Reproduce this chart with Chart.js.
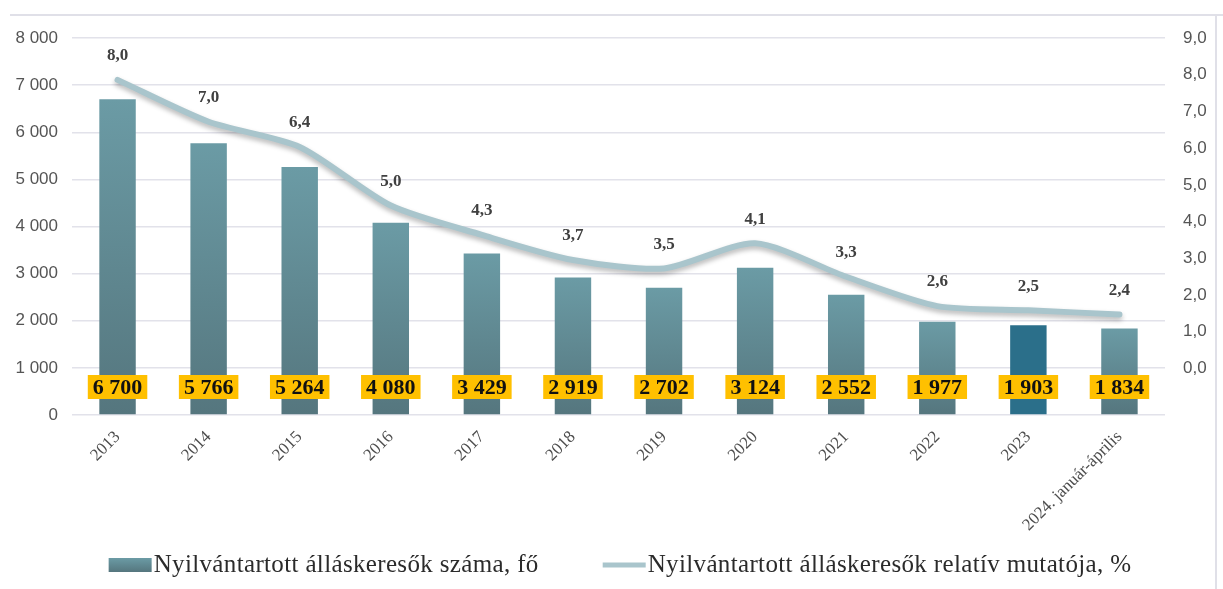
<!DOCTYPE html>
<html><head><meta charset="utf-8">
<script src="https://cdn.jsdelivr.net/npm/chart.js@4.4.1/dist/chart.umd.min.js"></script>
<style>html,body{margin:0;padding:0;background:#fff;} canvas{display:block;}</style>
</head><body>
<canvas id="c" width="1223" height="589"></canvas>
<script>
const categories = ['2013','2014','2015','2016','2017','2018','2019','2020','2021','2022','2023','2024. január-április'];
const jobseekers = [6700,5766,5264,4080,3429,2919,2702,3124,2552,1977,1903,1834];
const rates = [8.0,7.0,6.4,5.0,4.3,3.7,3.5,4.1,3.3,2.6,2.5,2.4];
const leftTicks = [0,1000,2000,3000,4000,5000,6000,7000,8000];
const rightTicks = [0,1,2,3,4,5,6,7,8,9];
const seriesNames = ['Nyilvántartott álláskeresők száma, fő','Nyilvántartott álláskeresők relatív mutatója, %'];
const highlightIndex = 10;

const fmtInt = v => String(v).replace(/\B(?=(\d{3})+(?!\d))/g, ' ');
const fmtDec = v => Number(v).toFixed(1).replace('.', ',');

const BAR_TOP = '#6b9ba5', BAR_BOTTOM = '#55767e', BAR_HI = '#2b6f8a', LINE_COLOR = '#a9c5cc';

function barColor(ctx) {
  const chart = ctx.chart;
  if (ctx.type !== 'data') return BAR_TOP;
  if (ctx.dataIndex === highlightIndex) return BAR_HI;
  const area = chart.chartArea;
  const ys = chart.scales.y;
  if (!area || !ys) return BAR_TOP;
  const top = ys.getPixelForValue(ctx.raw);
  const g = chart.ctx.createLinearGradient(0, top, 0, area.bottom);
  g.addColorStop(0, BAR_TOP);
  g.addColorStop(1, BAR_BOTTOM);
  return g;
}

const framePlugin = {
  id: 'frame',
  beforeDraw(chart) {
    const c = chart.ctx;
    c.save();
    c.strokeStyle = '#e0e0e8';
    c.lineWidth = 2;
    c.beginPath();
    c.moveTo(10, 15); c.lineTo(chart.width, 15);
    c.moveTo(1216, 15); c.lineTo(1216, chart.height);
    c.stroke();
    c.restore();
  }
};

const shadowPlugin = {
  id: 'lineShadow',
  beforeDatasetDraw(chart, args) {
    if (chart.data.datasets[args.index].type === 'line') {
      const c = chart.ctx;
      c.save();
      c.shadowColor = 'rgba(0,0,0,0.28)';
      c.shadowBlur = 5;
      c.shadowOffsetY = 3;
    }
  },
  afterDatasetDraw(chart, args) {
    if (chart.data.datasets[args.index].type === 'line') chart.ctx.restore();
  }
};

const labelsPlugin = {
  id: 'valueLabels',
  afterDatasetsDraw(chart) {
    const c = chart.ctx;
    const xs = chart.scales.x, yr = chart.scales.yr, area = chart.chartArea;
    c.save();
    c.font = 'bold 17px "Liberation Serif"';
    c.fillStyle = '#404040';
    c.textAlign = 'center';
    c.textBaseline = 'middle';
    rates.forEach((v, i) => {
      c.fillText(fmtDec(v), xs.getPixelForValue(i), yr.getPixelForValue(v) - 24);
    });
    c.font = 'bold 22px "Liberation Serif"';
    jobseekers.forEach((v, i) => {
      const t = fmtInt(v);
      const w = c.measureText(t).width + 10;
      const x = xs.getPixelForValue(i);
      const y = area.bottom - 28;
      c.fillStyle = '#ffc000';
      c.fillRect(x - w / 2, y - 12, w, 24);
      c.fillStyle = '#111';
      c.fillText(t, x, y + 1);
    });
    c.restore();
  }
};

const legendPlugin = {
  id: 'customLegend',
  afterDraw(chart) {
    const c = chart.ctx;
    c.save();
    c.font = '25px "Liberation Serif"';
    try { c.letterSpacing = '0.35px'; } catch (e) {}
    c.textBaseline = 'middle';
    c.textAlign = 'left';
    const y = 565;
    const mw = 43, gap = 2, between = 64;
    const w1 = c.measureText(seriesNames[0]).width;
    const w2 = c.measureText(seriesNames[1]).width;
    const total = mw + gap + w1 + between + mw + gap + w2;
    let x = 620 - total / 2;
    const g = c.createLinearGradient(0, y - 7, 0, y + 7);
    g.addColorStop(0, BAR_TOP); g.addColorStop(1, BAR_BOTTOM);
    c.fillStyle = g;
    c.fillRect(x, y - 7, mw, 14);
    x += mw + gap;
    c.fillStyle = '#2b2b2b';
    c.fillText(seriesNames[0], x, y);
    x += w1 + between;
    c.strokeStyle = LINE_COLOR;
    c.lineWidth = 5;
    c.beginPath(); c.moveTo(x, y); c.lineTo(x + mw, y); c.stroke();
    x += mw + gap;
    c.fillText(seriesNames[1], x, y);
    c.restore();
  }
};

new Chart(document.getElementById('c'), {
  data: {
    labels: categories,
    datasets: [
      { type: 'line', label: seriesNames[1], data: rates, yAxisID: 'yr', order: 0,
        borderColor: LINE_COLOR, borderWidth: 6, pointRadius: 0, tension: 0.25,
        borderCapStyle: 'round', borderJoinStyle: 'round' },
      { type: 'bar', label: seriesNames[0], data: jobseekers, yAxisID: 'y', order: 1,
        backgroundColor: barColor, barPercentage: 0.4, categoryPercentage: 1.0 }
    ]
  },
  options: {
    responsive: false,
    animation: false,
    devicePixelRatio: 1,
    layout: { padding: { top: 38, left: 0, right: 0, bottom: 44 } },
    plugins: { legend: { display: false }, tooltip: { enabled: false } },
    scales: {
      x: {
        grid: { display: false }, border: { display: false },
        ticks: { maxRotation: 45, minRotation: 45, autoSkip: false, padding: 4,
          font: { family: 'Liberation Serif', size: 17 }, color: '#4d4d4d' },
        afterFit(s) { s.height = 130; }
      },
      y: {
        position: 'left', min: 0, max: 8000,
        afterBuildTicks(s) { s.ticks = leftTicks.map(v => ({ value: v })); },
        ticks: { callback: v => fmtInt(v), padding: 14,
          font: { family: 'Liberation Sans', size: 17 }, color: '#555555' },
        grid: { color: '#e2e2ea', lineWidth: 1.5, drawTicks: false },
        border: { display: false },
        afterFit(s) { s.width = 72; }
      },
      yr: { display: false, min: 0, max: 9 },
      y2: {
        position: 'right', min: -1.27, max: 9,
        afterBuildTicks(s) { s.ticks = rightTicks.map(v => ({ value: v })); },
        ticks: { callback: v => fmtDec(v), padding: 18,
          font: { family: 'Liberation Sans', size: 17 }, color: '#555555' },
        grid: { display: false, drawTicks: false }, border: { display: false },
        afterFit(s) { s.width = 58; }
      }
    }
  },
  plugins: [framePlugin, shadowPlugin, labelsPlugin, legendPlugin]
});
</script>
</body></html>
